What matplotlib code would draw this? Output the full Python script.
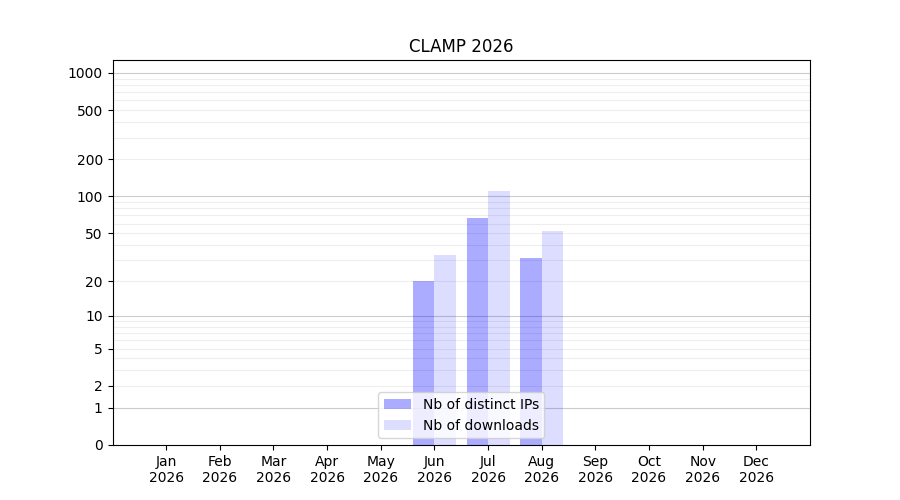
import numpy as np
import matplotlib
matplotlib.use("Agg")
import matplotlib.pyplot as plt

months = ["Jan", "Feb", "Mar", "Apr", "May", "Jun", "Jul", "Aug", "Sep", "Oct", "Nov", "Dec"]
year = "2026"
distinct_ips = [0, 0, 0, 0, 0, 20, 67, 31, 0, 0, 0, 0]
downloads = [0, 0, 0, 0, 0, 33, 110, 52, 0, 0, 0, 0]
ytick_values = [0, 1, 2, 5, 10, 20, 50, 100, 200, 500, 1000]
title = "CLAMP 2026"

fig, ax = plt.subplots(figsize=(9, 5), dpi=100)

def fwd(y):
    return np.log10(1 + np.clip(y, 0, None))

def inv(y):
    return 10 ** y - 1

ax.set_yscale("function", functions=(fwd, inv))

x = np.arange(len(months))
w = 0.4
ax.bar(x - w / 2, distinct_ips, width=w, color="blue", alpha=0.33, label="Nb of distinct IPs", zorder=3)
ax.bar(x + w / 2, downloads, width=w, color="blue", alpha=0.135, label="Nb of downloads", zorder=3)

for d in [1, 10, 100, 1000]:
    ax.axhline(d, color="#cccccc", lw=0.8, zorder=1)
    for k in range(2, 10):
        ax.axhline(k * d, color="#eeeeee", lw=0.8, zorder=1)

ax.set_xticks(x)
ax.set_xticklabels([f"{m}\n{year}" for m in months])
ax.set_xlim(-1, 12)
ax.set_yticks(ytick_values)
ax.set_yticklabels([str(v) for v in ytick_values])
ax.yaxis.set_minor_locator(matplotlib.ticker.NullLocator())
ax.set_ylim(0, 1272)
ax.set_title(title)
ax.legend(loc="lower center")

fig.savefig("out.png", dpi=100)
